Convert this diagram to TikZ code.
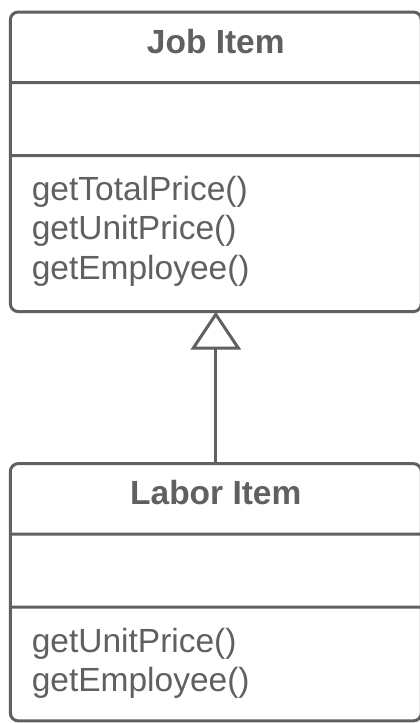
\documentclass[tikz,border=0pt]{standalone}
\usepackage{fontspec}
\setmainfont{Liberation Sans}
\usepackage{tikz}
\usetikzlibrary{positioning, arrows.meta, shapes.multipart}
\definecolor{umlgray}{RGB}{96, 96, 96}
\tikzset{
  umlclass/.style={
    draw=umlgray, line width=3pt, rounded corners=8pt,
    rectangle split, rectangle split parts=3,
    rectangle split part align={center, left, left},
    minimum width=411pt, inner xsep=21.5pt, inner ysep=0pt, outer sep=0pt,
    text=umlgray, font=\fontsize{33.5}{39.3}\selectfont,
  },
  inherit/.style={draw=umlgray, line width=3pt,
    -{Triangle[open, length=38pt, width=50pt]}},
}
\newcommand{\ch}[1]{\rule[-28pt]{0pt}{67.5pt}\textbf{#1}}
\newcommand{\cattr}{\rule{0pt}{70pt}}
\newcommand{\cops}[2]{\begin{tabular}{@{}l@{}}\rule{0pt}{43.5pt}#1\rule[-#2]{0pt}{0pt}\end{tabular}}

\begin{document}
\begin{tikzpicture}[x=1pt, y=1pt]
\useasboundingbox (0,0) rectangle (420,-723);

\node[umlclass, anchor=north] (job) at (215.8,-12) {\ch{Job Item}
\nodepart{two}\cattr
\nodepart{three}\cops{getTotalPrice()\\getUnitPrice()\\getEmployee()}{31pt}};

\node[umlclass, below=152pt of job] (labor) {\ch{Labor Item}
\nodepart{two}\cattr
\nodepart{three}\cops{getUnitPrice()\\getEmployee()}{28pt}};

\draw[inherit] (labor) -- (job);

\end{tikzpicture}
\end{document}
